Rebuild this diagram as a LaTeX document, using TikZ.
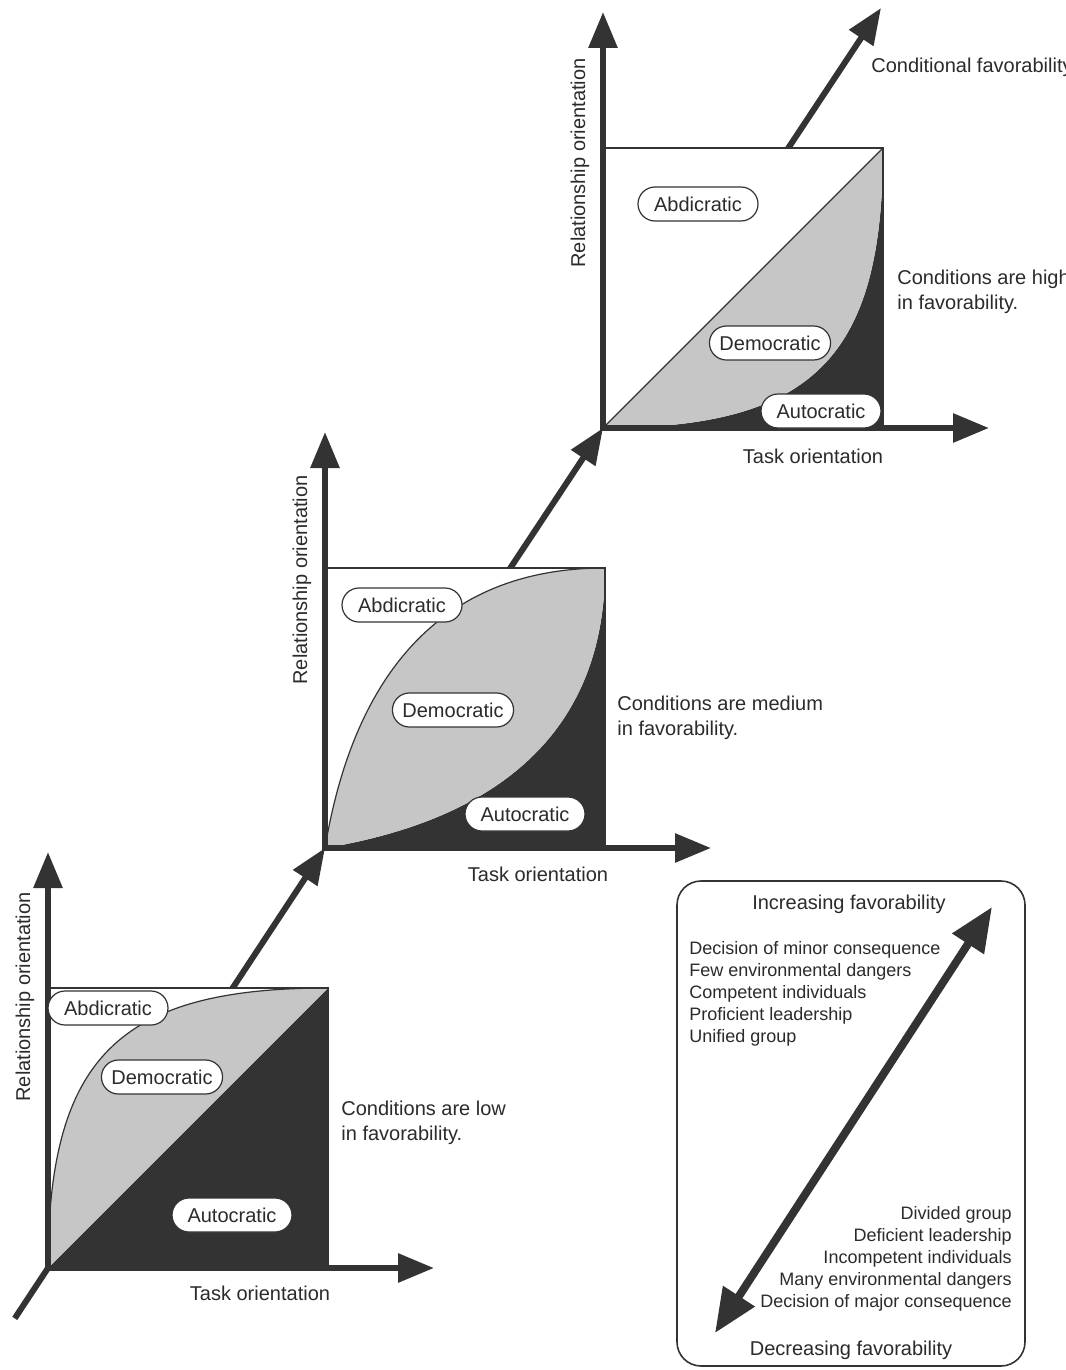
\documentclass[tikz,border=0pt]{standalone}
\usepackage{fontspec}
\setmainfont{Liberation Sans}
\usetikzlibrary{arrows.meta,calc}
\definecolor{inkgray}{HTML}{333333}
\definecolor{demogray}{HTML}{C6C6C6}
\definecolor{textgray}{HTML}{2B2B2B}
\tikzset{
    axes/.style={line width=3pt, draw=inkgray, {Triangle[width=14pt,length=18pt]}-{Triangle[width=14pt,length=18pt]}},
    favline/.style={line width=3pt, draw=inkgray, -{Triangle[width=14pt,length=18pt]}},
    twoway/.style={line width=4pt, draw=inkgray, {Triangle[width=18pt,length=22pt]}-{Triangle[width=18pt,length=22pt]}},
    frame/.style={draw=inkgray, line width=1pt},
    curve/.style={draw=inkgray, line width=0.6pt},
    stylebox/.style={draw=inkgray, fill=white, line width=0.6pt, rounded corners=8.5pt, minimum width=60pt, minimum height=17pt, inner xsep=5pt, inner ysep=0pt},
    axislabel/.style={inner sep=0pt},
    condlabel/.style={align=left, anchor=west, inner sep=0pt},
    listtext/.style={font=\fontsize{9}{11}\selectfont, inner sep=0pt}
}

\begin{document}
\begin{tikzpicture}[x=0.5pt, y=-0.5pt, every node/.style={text=textgray, font=\fontsize{10}{12.5}\selectfont}]
    \path[use as bounding box] (0,0) rectangle (1065,1370);
    \fill[white] (0,0) rectangle (1065,1370);
    \clip (0,0) rectangle (1065,1370);

    \coordinate (o1) at (48,1268);
    \coordinate (o2) at (325,848);
    \coordinate (o3) at (603,428);
    \coordinate (dstart) at ($(o1)!-0.12!(o2)$);
    \coordinate (dend) at ($(o2)!2!(o3)$);

    \draw[favline] (dstart) -- (o2);
    \draw[favline] (o2) -- (o3);
    \draw[favline] (o3) -- (dend);

    \begin{scope}[shift={(o1)}, yscale=-1]
        \fill[white] (0,0) rectangle (280,280);
        \fill[inkgray] (0,0) -- (280,0) -- (280,280) -- cycle;
        \fill[demogray] (0,0) .. controls (0,210) and (70,280) .. (280,280) -- cycle;
        \draw[curve] (0,0) .. controls (0,210) and (70,280) .. (280,280);
        \draw[frame] (0,0) rectangle (280,280);
        \coordinate (ytip1) at (0,416);
        \coordinate (xtip1) at (386,0);
    \end{scope}
    \draw[axes] (ytip1) -- (o1) -- (xtip1);

    \begin{scope}[shift={(o2)}, yscale=-1]
        \fill[white] (0,0) rectangle (280,280);
        \fill[inkgray] (0,0) .. controls (168,28) and (280,112) .. (280,280) -- (280,0) -- cycle;
        \fill[demogray] (0,0) .. controls (28,168) and (112,280) .. (280,280)
            .. controls (280,112) and (168,28) .. (0,0);
        \draw[curve] (0,0) .. controls (28,168) and (112,280) .. (280,280);
        \draw[frame] (0,0) rectangle (280,280);
        \coordinate (ytip2) at (0,416);
        \coordinate (xtip2) at (386,0);
    \end{scope}
    \draw[axes] (ytip2) -- (o2) -- (xtip2);

    \begin{scope}[shift={(o3)}, yscale=-1]
        \fill[white] (0,0) rectangle (280,280);
        \fill[inkgray] (0,0) .. controls (210,0) and (280,70) .. (280,280) -- (280,0) -- cycle;
        \fill[demogray] (0,0) -- (280,280) .. controls (280,70) and (210,0) .. (0,0);
        \draw[curve] (0,0) -- (280,280);
        \draw[frame] (0,0) rectangle (280,280);
        \coordinate (ytip3) at (0,416);
        \coordinate (xtip3) at (386,0);
    \end{scope}
    \draw[axes] (ytip3) -- (o3) -- (xtip3);

    \node[stylebox] (abd1) at (108,1008) {Abdicratic};
    \node[stylebox] (dem1) at (162,1077) {Democratic};
    \node[stylebox] (aut1) at (232,1215) {Autocratic};
    \node[axislabel, rotate=90] (rel1) at (25,997) {Relationship orientation};
    \node[axislabel] (task1) at (260,1293) {Task orientation};
    \node[condlabel] (cond1) at (341,1123) {Conditions are low\\in favorability.};

    \node[stylebox] (abd2) at (402,605) {Abdicratic};
    \node[stylebox] (dem2) at (453,710) {Democratic};
    \node[stylebox] (aut2) at (525,814) {Autocratic};
    \node[axislabel, rotate=90] (rel2) at (302,580) {Relationship orientation};
    \node[axislabel] (task2) at (538,874) {Task orientation};
    \node[condlabel] (cond2) at (617,718) {Conditions are medium\\in favorability.};

    \node[stylebox] (abd3) at (698,204) {Abdicratic};
    \node[stylebox] (dem3) at (770,343) {Democratic};
    \node[stylebox] (aut3) at (821,411) {Autocratic};
    \node[axislabel, rotate=90] (rel3) at (580,163) {Relationship orientation};
    \node[axislabel] (task3) at (813,456) {Task orientation};
    \node[condlabel] (cond3) at (897,292) {Conditions are high\\in favorability.};
    \node[condlabel] (condfav) at (871,67) {Conditional favorability};

    \draw[inkgray, line width=0.8pt, rounded corners=12pt] (677,881) rectangle (1025,1366);
    \node (incr) at (849,904) {Increasing favorability};
    \node (decr) at (851,1350) {Decreasing favorability};
    \node[listtext, align=left, anchor=north west] (pros) at (689,941) {Decision of minor consequence\\Few environmental dangers\\Competent individuals\\Proficient leadership\\Unified group};
    \node[listtext, align=right, anchor=north east] (cons) at (1012,1206) {Divided group\\Deficient leadership\\Incompetent individuals\\Many environmental dangers\\Decision of major consequence};
    \coordinate (favlo) at (715,1333);
    \coordinate (favhi) at (992,907);
    \draw[twoway] (favlo) -- (favhi);
\end{tikzpicture}
\end{document}
